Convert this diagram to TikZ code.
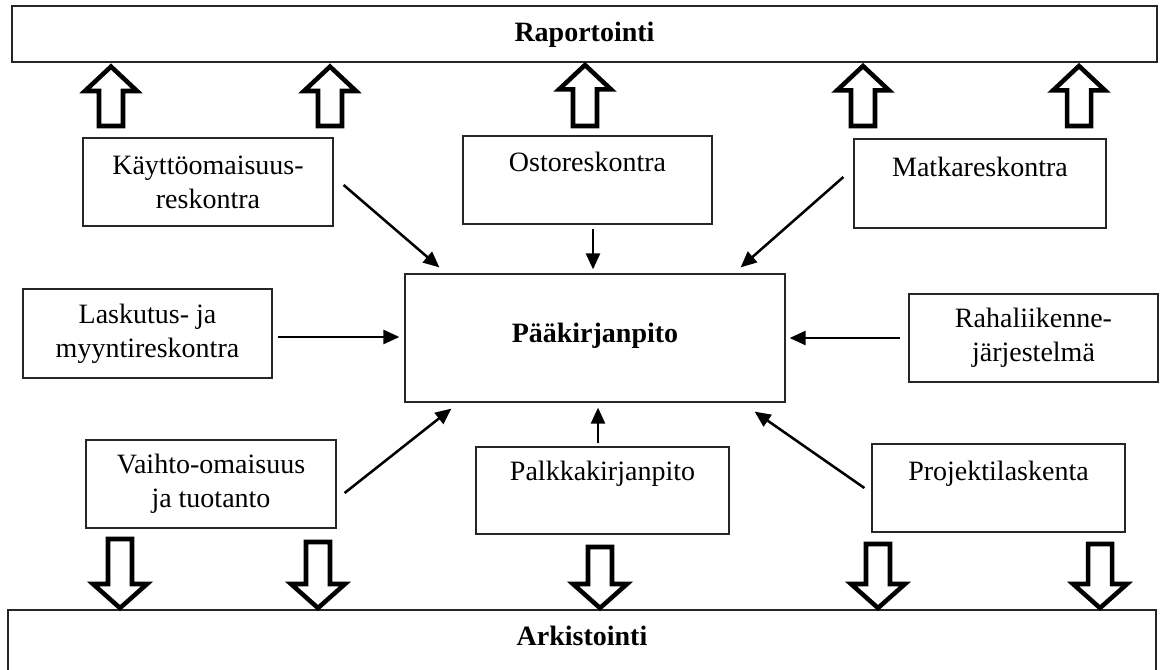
\documentclass[tikz,border=0pt]{standalone}
\usepackage{fontspec}
\setmainfont{Liberation Serif}
\usetikzlibrary{arrows.meta,calc}
\newcommand\blockup[3]{%
  \draw[blk] (#1,#2) -- (#1+26,#2+24.4) -- (#1+12,#2+24.4) -- (#1+12,#3)
    -- (#1-12,#3) -- (#1-12,#2+24.4) -- (#1-26,#2+24.4) -- cycle;}
\newcommand\blockdown[3]{%
  \draw[blk] (#1,#2) -- (#1+27,#2-24) -- (#1+12,#2-24) -- (#1+12,#3)
    -- (#1-12,#3) -- (#1-12,#2-24) -- (#1-27,#2-24) -- cycle;}
\begin{document}
\begin{tikzpicture}[x=0.75pt,y=-0.75pt,
  box/.style 2 args={draw=black!85, line width=0.9pt, inner sep=0pt,
    minimum width=#1*0.75pt, minimum height=#2*0.75pt, align=center,
    font=\fontsize{21}{25.5}\selectfont},
  txt/.style={inner sep=0pt, anchor=base, font=\fontsize{21}{25.5}\selectfont},
  btxt/.style={inner sep=0pt, anchor=base, font=\fontsize{21}{25.5}\selectfont\bfseries},
  conn/.style={line width=1.9pt, -{Triangle[length=12pt,width=10.5pt]}},
  blk/.style={line width=3.4pt, line join=miter, draw=black, fill=white}]
\useasboundingbox (0,0) rectangle (1166,670);

% top and bottom bars
\node[box={1145}{56}] (tb) at (584.5,34) {};
\node[btxt] (tbl) at (584.5,42) {Raportointi};
\node[box={1148}{64}] (bb) at (582,642) {};
\node[btxt] (bbl) at (582,645) {Arkistointi};

% boxes
\node[box={250}{88}] (kay) at (208,182) {Käyttöomaisuus-\\reskontra};
\node[box={249}{88}] (osto) at (587.5,180) {};
\node[txt] (ostol) at (587.5,172) {Ostoreskontra};
\node[box={252}{89}] (matka) at (980,183.5) {};
\node[txt] (matkal) at (980,177) {Matkareskontra};
\node[box={249}{89}] (lask) at (147.5,333.5) {Laskutus- ja\\myyntireskontra};
\node[box={380}{128}] (paa) at (595,338) {};
\node[btxt] (paal) at (595,342) {Pääkirjanpito};
\node[box={249}{88}] (raha) at (1033.5,338) {Rahaliikenne-\\järjestelmä};
\node[box={250}{88}] (vaihto) at (211,484) {Vaihto-omaisuus\\ja tuotanto};
\node[box={253}{87}] (palkka) at (602.5,490.5) {};
\node[txt] (palkkal) at (602.5,480) {Palkkakirjanpito};
\node[box={253}{88}] (proj) at (998.5,488) {};
\node[txt] (projl) at (998.5,480) {Projektilaskenta};

% connectors
\draw[conn] ($(kay.east)+(10,3)$) -- ($(paa.north west)+(35,-6)$);
\draw[conn] ($(osto.south)+(5.5,4)$) -- ($(paa.north)+(-2,-4)$);
\draw[conn] ($(matka.west)+(-10,-6.5)$) -- ($(paa.north east)+(-45,-6)$);
\draw[conn] ($(lask.east)+(5,3.5)$) -- ($(paa.west)+(-5,-1)$);
\draw[conn] ($(raha.west)+(-8,0)$) -- ($(paa.east)+(4,0)$);
\draw[conn] ($(vaihto.east)+(8,9)$) -- ($(paa.south west)+(47,6)$);
\draw[conn] ($(palkka.north)+(-4.5,-3)$) -- ($(paa.south)+(3,5)$);
\draw[conn] ($(proj.west)+(-7,0)$) -- ($(paa.south east)+(-31,9)$);

% block arrows up
\blockup{111}{66.6}{126}
\blockup{330}{66.6}{126}
\blockup{585}{65}{126}
\blockup{863}{66}{126}
\blockup{1079}{66}{126}
% block arrows down
\blockdown{120}{608}{539}
\blockdown{318}{608}{542}
\blockdown{600}{608}{547}
\blockdown{878}{608}{544}
\blockdown{1100}{608}{544}
\end{tikzpicture}
\end{document}
